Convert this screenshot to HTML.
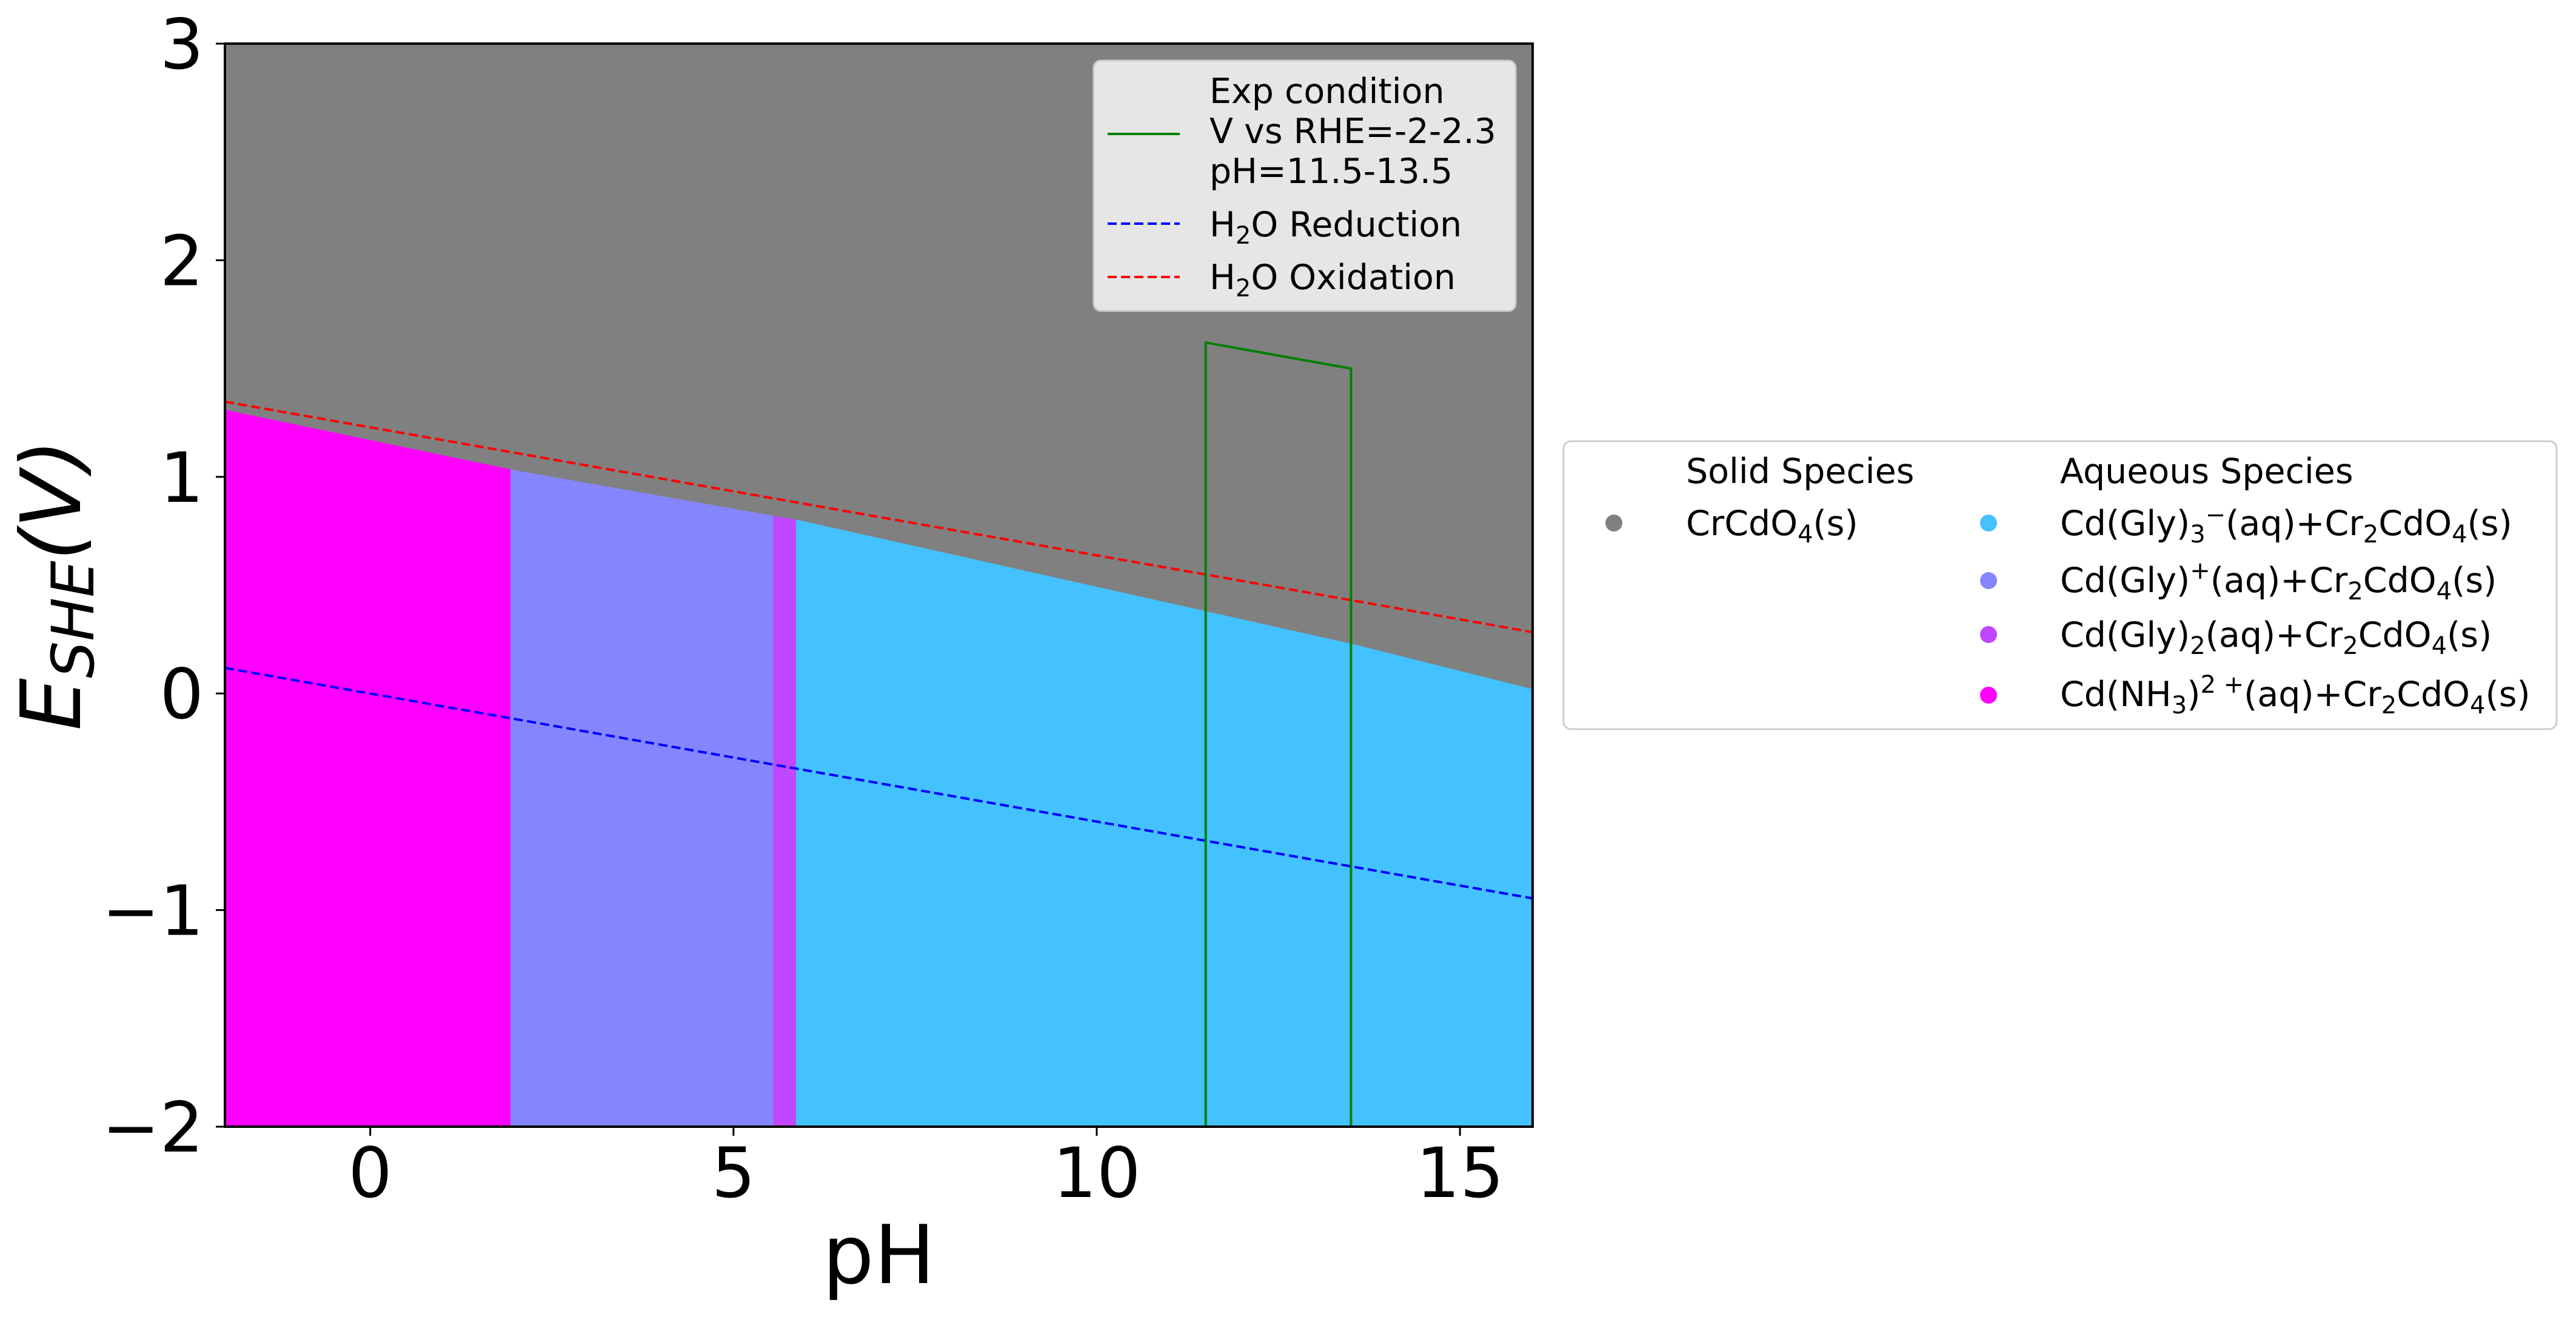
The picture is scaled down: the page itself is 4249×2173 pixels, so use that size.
<!DOCTYPE html>
<html><head><meta charset="utf-8"><style>
html,body{margin:0;padding:0;background:#fff;}
svg{display:block;font-family:"DejaVu Sans","Liberation Sans",sans-serif;}
</style></head>
<body>
<svg id="chart" width="4249" height="2173" viewBox="0 0 4249 2173" xmlns="http://www.w3.org/2000/svg">
<g id="plot"></g>
<g id="axes"></g>
<g id="legend1">
  <rect x="1804" y="100" width="696" height="413" rx="12" fill="#e6e6e6" stroke="#cccccc" stroke-width="3"/>
  <line x1="1827" y1="221" x2="1946" y2="221" stroke="#008000" stroke-width="4"/>
  <text x="1995" y="170" font-size="57">Exp condition</text>
  <text x="1995" y="236" font-size="57">V vs RHE=-2-2.3</text>
  <text x="1995" y="302" font-size="57">pH=11.5-13.5</text>
  <line x1="1827" y1="369" x2="1946" y2="369" stroke="#0000ff" stroke-width="4" stroke-dasharray="15,7"/>
  <text x="1995" y="390" font-size="57">H<tspan font-size="40" dy="12">2</tspan><tspan dy="-12">O Reduction</tspan></text>
  <line x1="1827" y1="457" x2="1946" y2="457" stroke="#ff0000" stroke-width="4" stroke-dasharray="15,7"/>
  <text x="1995" y="477" font-size="57">H<tspan font-size="40" dy="12">2</tspan><tspan dy="-12">O Oxidation</tspan></text>
</g>
<g id="legend2">
  <rect x="2579" y="728" width="1638" height="475" rx="12" fill="#ffffff" stroke="#cccccc" stroke-width="3"/>
  <text x="2781" y="797" font-size="57">Solid Species</text>
  <text x="3398" y="797" font-size="57">Aqueous Species</text>
  <circle cx="2662" cy="863" r="14" fill="#808080"/>
  <text x="2781" y="883" font-size="57">CrCdO<tspan font-size="40" dy="12">4</tspan><tspan dy="-12">(s)</tspan></text>
  <circle cx="3280" cy="863" r="14" fill="#44c1ff"/>
  <text x="3398" y="883" font-size="57">Cd(Gly)<tspan font-size="40" dy="12">3</tspan><tspan font-size="40" dy="-32">−</tspan><tspan dy="20">(aq)+Cr</tspan><tspan font-size="40" dy="12">2</tspan><tspan dy="-12">CdO</tspan><tspan font-size="40" dy="12">4</tspan><tspan dy="-12">(s)</tspan></text>
  <circle cx="3280" cy="958" r="14" fill="#8585ff"/>
  <text x="3398" y="977" font-size="57">Cd(Gly)<tspan font-size="40" dy="-22">+</tspan><tspan dy="22">(aq)+Cr</tspan><tspan font-size="40" dy="12">2</tspan><tspan dy="-12">CdO</tspan><tspan font-size="40" dy="12">4</tspan><tspan dy="-12">(s)</tspan></text>
  <circle cx="3280" cy="1047" r="14" fill="#c146ff"/>
  <text x="3398" y="1067" font-size="57">Cd(Gly)<tspan font-size="40" dy="12">2</tspan><tspan dy="-12">(aq)+Cr</tspan><tspan font-size="40" dy="12">2</tspan><tspan dy="-12">CdO</tspan><tspan font-size="40" dy="12">4</tspan><tspan dy="-12">(s)</tspan></text>
  <circle cx="3280" cy="1147" r="14" fill="#ff00ff"/>
  <text x="3398" y="1165" font-size="57">Cd(NH<tspan font-size="40" dy="12">3</tspan><tspan dy="-12">)</tspan><tspan font-size="40" dy="-22">2 +</tspan><tspan dy="22">(aq)+Cr</tspan><tspan font-size="40" dy="12">2</tspan><tspan dy="-12">CdO</tspan><tspan font-size="40" dy="12">4</tspan><tspan dy="-12">(s)</tspan></text>
</g>
</svg>
<script>
// data
const regionNames = ["Cd(NH3)2+", "Cd(Gly)+", "Cd(Gly)2", "Cd(Gly)3-"];
const regionStartPH = [-2, 1.93, 5.55, 5.86];
const regionEndPH = [1.93, 5.55, 5.86, 16];
const regionColors = ["#ff00ff", "#8585ff", "#c146ff", "#44c1ff"];
const boundaryPH = [-2, 2, 5.9, 11.5, 13.5, 16];
const boundaryE = [1.31, 1.03, 0.80, 0.38, 0.23, 0.02];
const oxidationPH = [-2, 16];
const oxidationE = [1.347, 0.283];
const reductionPH = [-2, 16];
const reductionE = [0.118, -0.946];
const expPH = [11.5, 11.5, 13.5, 13.5];
const expE = [-2, 1.62, 1.50, -2];
const xTicks = [0, 5, 10, 15];
const yTicks = [3, 2, 1, 0, -1, -2];
const yTickLabels = ["3", "2", "1", "0", "−1", "−2"];

const X0 = 371, X1 = 2528, Y0 = 72, Y1 = 1859;
const xMin = -2, xMax = 16, yMin = -2, yMax = 3;
const sx = v => X0 + (v - xMin) / (xMax - xMin) * (X1 - X0);
const sy = v => Y1 - (v - yMin) / (yMax - yMin) * (Y1 - Y0);
const NS = "http://www.w3.org/2000/svg";
function mk(tag, attrs, parent) {
  const e = document.createElementNS(NS, tag);
  for (const k in attrs) e.setAttribute(k, attrs[k]);
  parent.appendChild(e);
  return e;
}
const plot = document.getElementById('plot');
const axes = document.getElementById('axes');
const bg = mk('rect', {x: X0, y: Y0, width: X1 - X0, height: Y1 - Y0, fill: '#808080'}, plot);


function boundaryAt(p) {
  for (let i = 0; i < boundaryPH.length - 1; i++) {
    if (p <= boundaryPH[i + 1] || i === boundaryPH.length - 2) {
      const t = (p - boundaryPH[i]) / (boundaryPH[i + 1] - boundaryPH[i]);
      return boundaryE[i] + t * (boundaryE[i + 1] - boundaryE[i]);
    }
  }
}
for (let i = 0; i < regionNames.length; i++) {
  const a = regionStartPH[i], b = regionEndPH[i];
  const pts = [[sx(a), sy(yMin)], [sx(a), sy(boundaryAt(a))]];
  boundaryPH.forEach((p, j) => { if (p > a && p < b) pts.push([sx(p), sy(boundaryE[j])]); });
  pts.push([sx(b), sy(boundaryAt(b))], [sx(b), sy(yMin)]);
  const poly = mk('polygon', {points: pts.map(p => p.join(',')).join(' '), fill: regionColors[i]}, plot);
  
  
}
const ox = mk('line', {x1: sx(oxidationPH[0]), y1: sy(oxidationE[0]), x2: sx(oxidationPH[1]), y2: sy(oxidationE[1]), stroke: '#ff0000', 'stroke-width': 4, 'stroke-dasharray': '15,7'}, plot);


const rd = mk('line', {x1: sx(reductionPH[0]), y1: sy(reductionE[0]), x2: sx(reductionPH[1]), y2: sy(reductionE[1]), stroke: '#0000ff', 'stroke-width': 4, 'stroke-dasharray': '15,7'}, plot);


const ex = mk('polyline', {points: expPH.map((p, i) => sx(p) + ',' + sy(expE[i])).join(' '), fill: 'none', stroke: '#008000', 'stroke-width': 4}, plot);


const frame = mk('rect', {x: X0, y: Y0, width: X1 - X0, height: Y1 - Y0, fill: 'none', stroke: '#000', 'stroke-width': 4}, axes);


xTicks.forEach(t => {
  const l = mk('line', {x1: sx(t), y1: Y1, x2: sx(t), y2: Y1 + 15, stroke: '#000', 'stroke-width': 3}, axes);
  
  
  const tx = mk('text', {x: sx(t), y: 1975, 'font-size': 114, 'text-anchor': 'middle'}, axes);
  tx.textContent = String(t);
  
  
});
yTicks.forEach((t, i) => {
  const l = mk('line', {x1: X0 - 15, y1: sy(t), x2: X0, y2: sy(t), stroke: '#000', 'stroke-width': 3}, axes);
  
  
  const tx = mk('text', {x: 336, y: sy(t) + 41, 'font-size': 114, 'text-anchor': 'end'}, axes);
  tx.textContent = yTickLabels[i];
  
  
});
const xl = mk('text', {x: (X0 + X1) / 2, y: 2117, 'font-size': 134, 'text-anchor': 'middle'}, axes);
xl.textContent = 'pH';


const yl = mk('text', {x: 0, y: 0, 'font-size': 137, 'text-anchor': 'middle', 'font-style': 'italic', transform: 'translate(132,965) rotate(-90)'}, axes);
yl.innerHTML = 'E<tspan font-size="96" dy="22">SHE</tspan><tspan dy="-22">(V)</tspan>';


const svg = document.getElementById('chart');
svg.appendChild(document.getElementById('legend1'));
svg.appendChild(document.getElementById('legend2'));
</script>
</body></html>
